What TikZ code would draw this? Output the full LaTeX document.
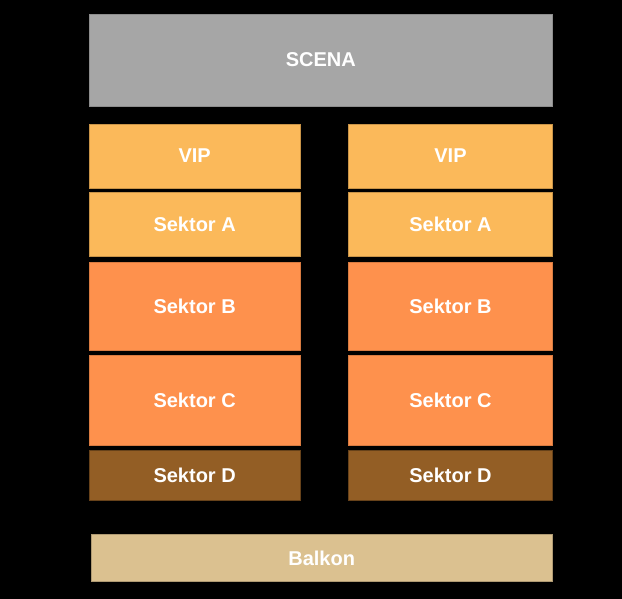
\documentclass[tikz,border=0pt]{standalone}
\usepackage{fontspec}
\setmainfont{Liberation Sans}
\definecolor{scena}{HTML}{A6A6A6}
\definecolor{vipc}{HTML}{FBB95A}
\definecolor{bc}{HTML}{FE914D}
\definecolor{dc}{HTML}{935E25}
\definecolor{balk}{HTML}{DBC190}
\begin{document}
\begin{tikzpicture}[x=1pt,y=-1pt,
  zone/.style={inner sep=0pt, outer sep=0pt, text=white, font=\fontsize{20}{22}\selectfont\bfseries, line width=0.6pt},
  lw/.style={minimum width=210.7pt},
  rw/.style={minimum width=203.6pt}]
\fill[black] (0,0) rectangle (622,599);
\useasboundingbox (0,0) rectangle (622,599);
\node[zone, fill=scena, draw=scena!85!black, minimum width=463pt, minimum height=92pt] (scena) at (320.8,60) {SCENA};
% left column
\node[zone, lw, fill=vipc, draw=vipc!80!black, minimum height=64pt] (lvip) at (194.65,156) {VIP};
\node[zone, lw, fill=vipc, draw=vipc!80!black, minimum height=64pt] (la) at (194.65,224.7) {Sektor A};
\node[zone, lw, fill=bc, draw=bc!85!black, minimum height=88.7pt] (lb) at (194.65,306.35) {Sektor B};
\node[zone, lw, fill=bc, draw=bc!85!black, minimum height=89.3pt] (lc) at (194.65,400.35) {Sektor C};
\node[zone, lw, fill=dc, draw=dc!70!black, minimum height=50pt] (ld) at (194.65,475) {Sektor D};
% right column
\node[zone, rw, fill=vipc, draw=vipc!80!black, minimum height=64pt] (rvip) at (450.5,156) {VIP};
\node[zone, rw, fill=vipc, draw=vipc!80!black, minimum height=64pt] (ra) at (450.5,224.7) {Sektor A};
\node[zone, rw, fill=bc, draw=bc!85!black, minimum height=88.7pt] (rb) at (450.5,306.35) {Sektor B};
\node[zone, rw, fill=bc, draw=bc!85!black, minimum height=89.3pt] (rc) at (450.5,400.35) {Sektor C};
\node[zone, rw, fill=dc, draw=dc!70!black, minimum height=50pt] (rd) at (450.5,475) {Sektor D};
% balcony
\node[zone, fill=balk, draw=balk!80!black, minimum width=461.3pt, minimum height=47.7pt] (balkon) at (321.65,557.85) {Balkon};
\end{tikzpicture}
\end{document}
